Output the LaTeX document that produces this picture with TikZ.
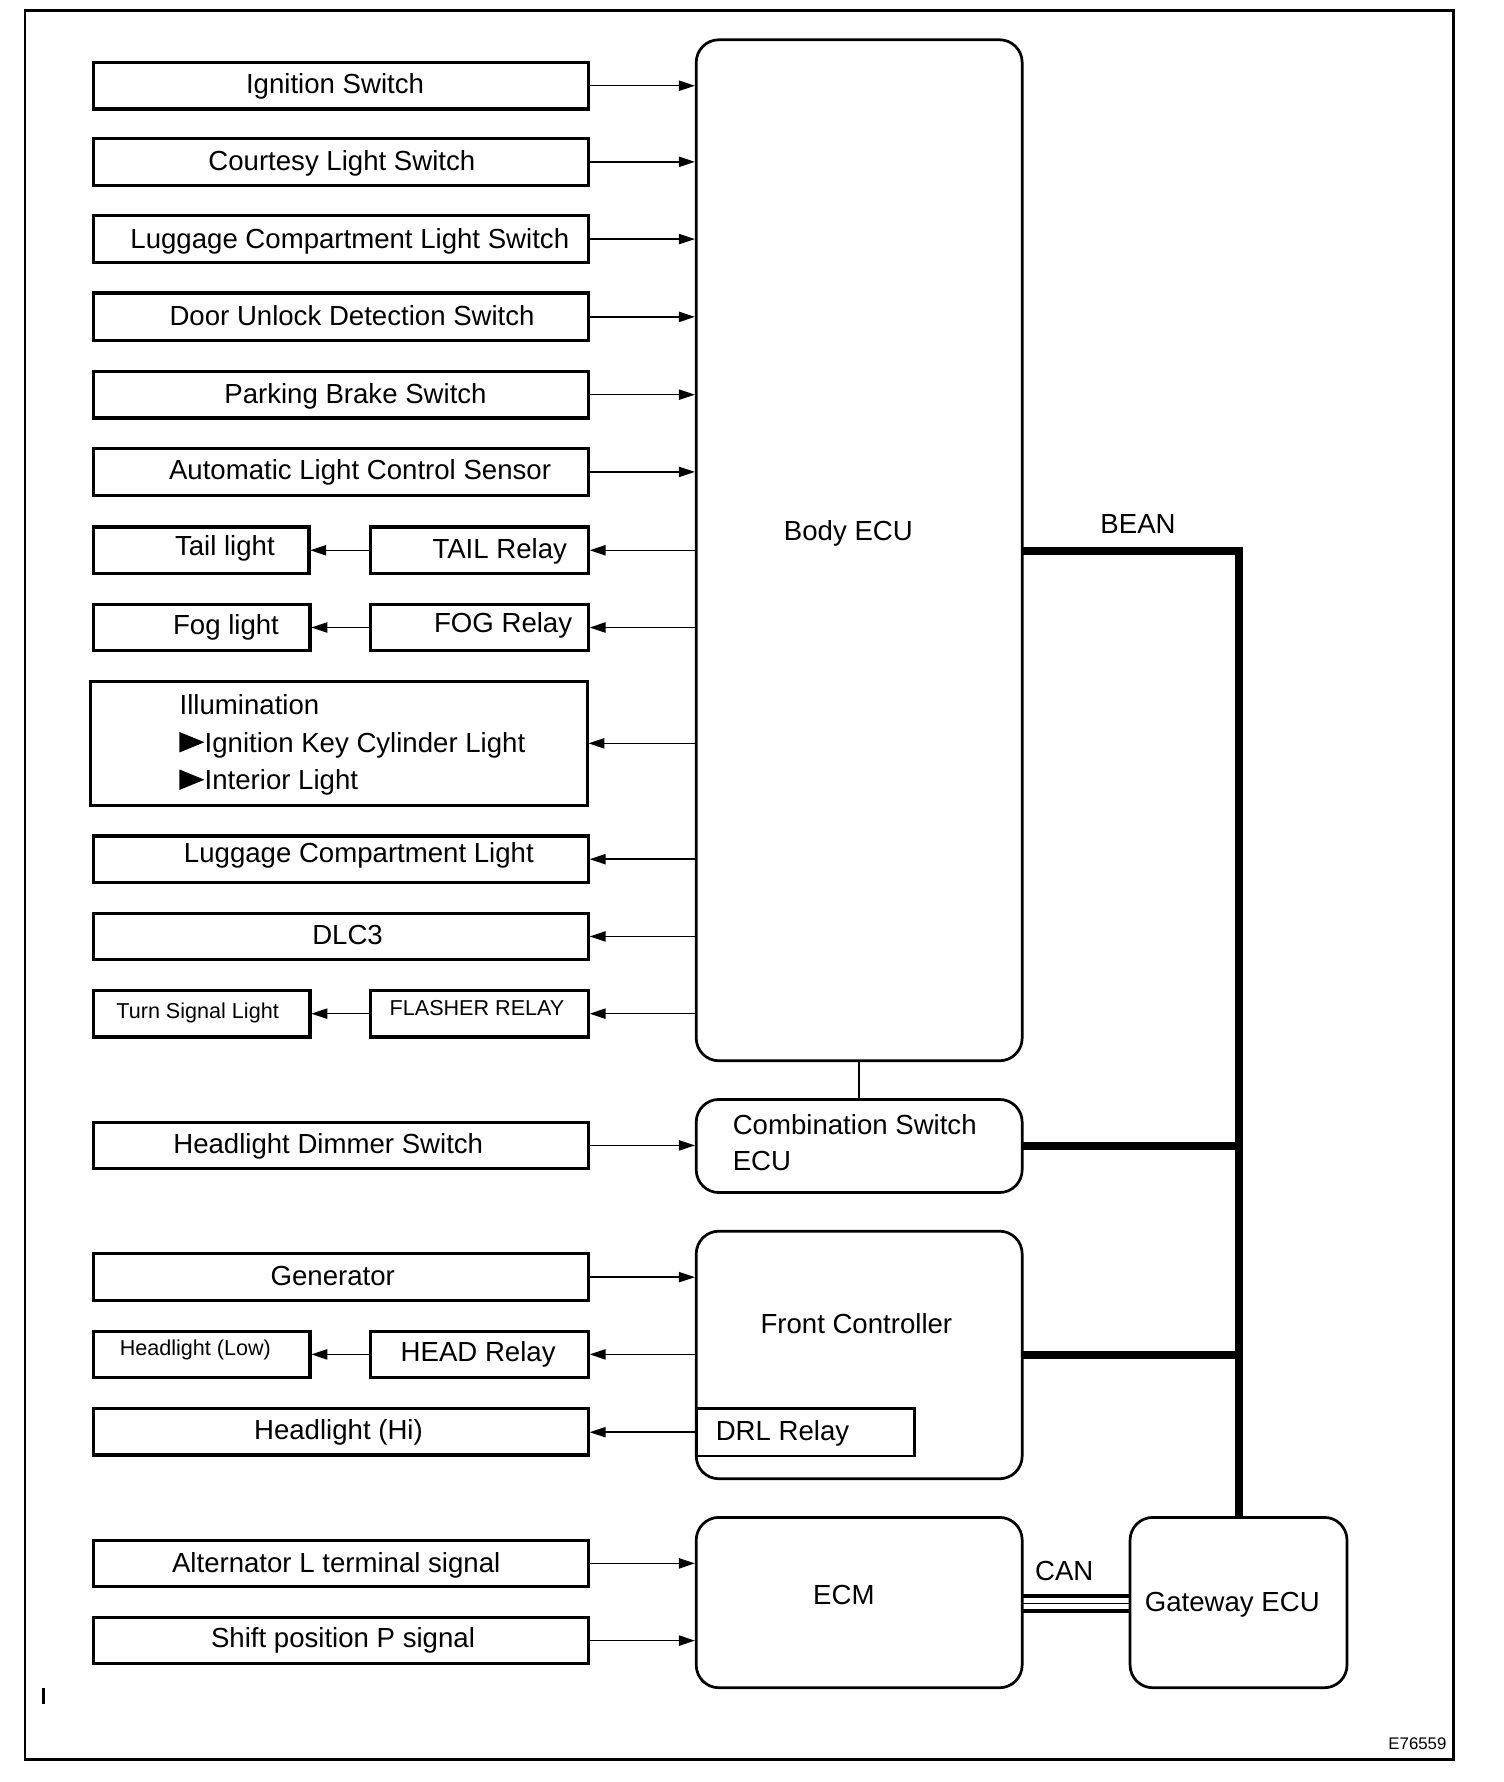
\documentclass[tikz,border=0pt]{standalone}
\usepackage{fontspec}
\setmainfont{Liberation Sans}
\usetikzlibrary{arrows.meta}
\begin{document}
\begin{tikzpicture}[x=1pt,y=-1pt,
  box/.style={draw, line width=2.8pt, inner sep=0pt, outer sep=0pt, anchor=north west},
  rbox/.style={draw, line width=2.4pt, inner sep=0pt, outer sep=0pt, anchor=north west, rounded corners=20pt},
  txt/.style={anchor=base, inner sep=0pt, font=\fontsize{24.3}{29}\selectfont},
  ltxt/.style={anchor=base west, inner sep=0pt, font=\fontsize{24.3}{29}\selectfont},
  stxt/.style={anchor=base, inner sep=0pt, font=\fontsize{19}{23}\selectfont},
  arr/.style={line width=1.3pt, shorten >=1.2pt, -{Triangle[length=14pt,width=9pt]}},
  thinl/.style={line width=1.3pt},
  bean/.style={line width=6.5pt, line join=miter, line cap=butt},
  canthick/.style={line width=3.5pt},
  canthin/.style={line width=1.3pt}]
\useasboundingbox (0,0) rectangle (1324,1569);
\draw[line width=2.6pt] (22,9) rectangle (1280,1549);

% right-hand units
\node[rbox, minimum width=287pt, minimum height=899pt] (body) at (613,35) {};
\node[rbox, minimum width=287pt, minimum height=82pt] (comb) at (613,968) {};
\node[rbox, minimum width=287pt, minimum height=218pt] (fc) at (613,1084) {};
\node[box, line width=2.4pt, minimum width=192pt, minimum height=42pt] (drl) at (613,1240) {};
\node[rbox, minimum width=287pt, minimum height=150pt] (ecm) at (613,1336) {};
\node[rbox, minimum width=191pt, minimum height=150pt] (gw) at (995,1336) {};

\node[txt] (bodyT) at (747,475.5) {Body ECU};
\node[ltxt] (combT1) at (645,998.5) {Combination Switch};
\node[ltxt] (combT2) at (645,1030.5) {ECU};
\node[txt] (fcT) at (754,1174.5) {Front Controller};
\node[ltxt] (drlT) at (630,1268.5) {DRL Relay};
\node[txt] (ecmT) at (743,1412.5) {ECM};
\node[txt] (gwT) at (1085,1418.5) {Gateway ECU};
\node[txt] (canT) at (937,1391.5) {CAN};
\node[txt] (beanT) at (1002,469.5) {BEAN};

% left boxes
\node[box, minimum width=436pt, minimum height=41pt] (ign) at (82,55) {};
\node[box, minimum width=436pt, minimum height=41pt] (court) at (82,122) {};
\node[box, minimum width=436pt, minimum height=41pt] (lugsw) at (82,190) {};
\node[box, minimum width=436pt, minimum height=42pt] (door) at (82,258) {};
\node[box, minimum width=436pt, minimum height=41pt] (park) at (82,327) {};
\node[box, minimum width=436pt, minimum height=41pt] (auto) at (82,395) {};
\node[box, minimum width=190pt, minimum height=41pt] (taill) at (82,464) {};
\node[box, minimum width=192pt, minimum height=41pt] (tailr) at (326,464) {};
\node[box, minimum width=191pt, minimum height=41pt] (fogl) at (82,532) {};
\node[box, minimum width=192pt, minimum height=41pt] (fogr) at (326,532) {};
\node[box, minimum width=437pt, minimum height=109pt] (illum) at (80,600) {};
\node[box, minimum width=436pt, minimum height=41pt] (luglt) at (82,736) {};
\node[box, minimum width=436pt, minimum height=41pt] (dlc) at (82,804) {};
\node[box, minimum width=191pt, minimum height=41pt] (turnl) at (82,872) {};
\node[box, minimum width=192pt, minimum height=41pt] (flash) at (326,872) {};
\node[box, minimum width=436pt, minimum height=41pt] (dim) at (82,988) {};
\node[box, minimum width=436pt, minimum height=41pt] (gen) at (82,1104) {};
\node[box, minimum width=191pt, minimum height=41pt] (headl) at (82,1172) {};
\node[box, minimum width=192pt, minimum height=41pt] (headr) at (326,1172) {};
\node[box, minimum width=436pt, minimum height=41pt] (hi) at (82,1240) {};
\node[box, minimum width=436pt, minimum height=41pt] (alt) at (82,1356) {};
\node[box, minimum width=436pt, minimum height=41pt] (shift) at (82,1424) {};

% left texts
\node[txt] (ignT) at (295,82.5) {Ignition Switch};
\node[txt] (courtT) at (301,150.5) {Courtesy Light Switch};
\node[txt] (lugswT) at (308,218.5) {Luggage Compartment Light Switch};
\node[txt] (doorT) at (310,286.5) {Door Unlock Detection Switch};
\node[txt] (parkT) at (313,355.5) {Parking Brake Switch};
\node[txt] (autoT) at (317,422.5) {Automatic Light Control Sensor};
\node[txt] (taillT) at (198,489.5) {Tail light};
\node[txt] (tailrT) at (440,491.5) {TAIL Relay};
\node[txt] (foglT) at (199,558.5) {Fog light};
\node[txt] (fogrT) at (443,556.5) {FOG Relay};
\node[ltxt] (illT1) at (158,629.5) {Illumination};
\node[ltxt] (illT2) at (180,662.5) {Ignition Key Cylinder Light};
\node[ltxt] (illT3) at (180,695.5) {Interior Light};
\fill (158,644.5) -- (158,662.5) -- (180,653.5) -- cycle;
\fill (158,677.5) -- (158,695.5) -- (180,686.5) -- cycle;
\node[txt] (lugltT) at (316,759.5) {Luggage Compartment Light};
\node[txt] (dlcT) at (306,831.5) {DLC3};
\node[stxt] (turnlT) at (174,896.8) {Turn Signal Light};
\node[stxt] (flashT) at (420,893.8) {FLASHER RELAY};
\node[txt] (dimT) at (289,1015.5) {Headlight Dimmer Switch};
\node[txt] (genT) at (293,1131.5) {Generator};
\node[stxt] (headlT) at (172,1193.8) {Headlight (Low)};
\node[txt] (headrT) at (421,1198.5) {HEAD Relay};
\node[txt] (hiT) at (298,1267.5) {Headlight (Hi)};
\node[txt] (altT) at (296,1384.5) {Alternator L terminal signal};
\node[txt] (shiftT) at (302,1450.5) {Shift position P signal};

\node[anchor=base, inner sep=0pt, font=\fontsize{14.8}{17}\selectfont] (code) at (1248,1540) {E76559};
\draw[line width=3pt] (38.5,1486) -- (38.5,1500);

% inputs
\foreach \n in {ign,court,lugsw,door,park,auto}
  \draw[arr] (\n.east) -- (\n.east -| body.west);
% outputs
\foreach \n in {tailr,fogr,illum,luglt,dlc,flash}
  \draw[arr] (\n.east -| body.west) -- (\n.east);
\draw[arr] (tailr.west) -- (taill.east);
\draw[arr] (fogr.west) -- (fogl.east);
\draw[arr] (flash.west) -- (turnl.east);
\draw[arr] (dim.east) -- (dim.east -| comb.west);
\draw[arr] (gen.east) -- (gen.east -| fc.west);
\draw[arr] (headr.east -| fc.west) -- (headr.east);
\draw[arr] (headr.west) -- (headl.east);
\draw[arr] (drl.west) -- (drl.west -| hi.east);
\draw[arr] (alt.east) -- (alt.east -| ecm.west);
\draw[arr] (shift.east) -- (shift.east -| ecm.west);

\draw[thinl] (body.south) -- (comb.north);

% BEAN
\coordinate (bj) at (1091,485);
\draw[bean] (body.east |- bj) -- (bj) -- (bj |- gw.north);
\draw[bean] (comb.east) -- (comb.east -| bj);
\draw[bean] (fc.east) -- (fc.east -| bj);

% CAN
\draw[canthick] ([yshift=5.5pt]ecm.east) -- ([yshift=5.5pt]ecm.east -| gw.west);
\draw[canthin] ([yshift=-1pt]ecm.east) -- ([yshift=-1pt]ecm.east -| gw.west);
\draw[canthick] ([yshift=-7.2pt]ecm.east) -- ([yshift=-7.2pt]ecm.east -| gw.west);
\end{tikzpicture}
\end{document}
